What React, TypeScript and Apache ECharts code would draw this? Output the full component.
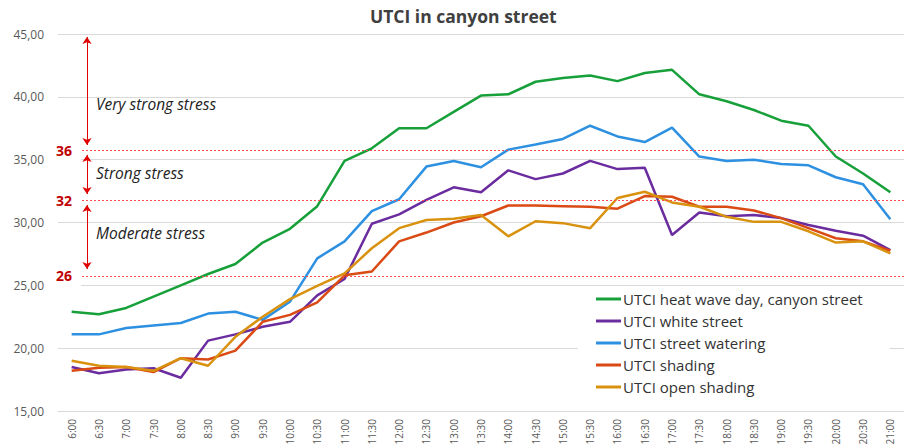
import React, { useEffect, useRef } from 'react';
import * as echarts from 'echarts';

const times = ['6:00','6:30','7:00','7:30','8:00','8:30','9:00','9:30','10:00','10:30','11:00','11:30','12:00','12:30','13:00','13:30','14:00','14:30','15:00','15:30','16:00','16:30','17:00','17:30','18:00','18:30','19:00','19:30','20:00','20:30','21:00'];

const heatWave = [22.9,22.7,23.2,24.1,25.0,25.9,26.7,28.4,29.5,31.3,34.9,35.9,37.5,37.5,38.8,40.1,40.2,41.2,41.5,41.7,41.25,41.9,42.15,40.2,39.65,38.95,38.1,37.7,35.25,33.9,32.4];
const whiteStreet = [18.5,18.0,18.3,18.4,17.65,20.6,21.1,21.7,22.1,24.2,25.5,29.9,30.65,31.8,32.8,32.4,34.15,33.45,33.9,34.9,34.25,34.35,29.0,30.8,30.5,30.6,30.35,29.8,29.35,28.95,27.8];
const streetWatering = [21.1,21.1,21.6,21.8,22.0,22.75,22.9,22.25,23.7,27.15,28.5,30.9,31.85,34.45,34.9,34.4,35.8,36.2,36.65,37.7,36.85,36.4,37.55,35.25,34.9,35.0,34.65,34.55,33.6,33.05,30.25];
const shading = [18.2,18.45,18.5,18.1,19.2,19.1,19.8,22.1,22.65,23.65,25.8,26.1,28.5,29.2,30.0,30.5,31.35,31.35,31.3,31.25,31.1,32.1,32.05,31.25,31.25,30.95,30.35,29.55,28.75,28.5,27.75];
const openShading = [19.0,18.6,18.5,18.2,19.2,18.6,20.9,22.5,23.9,24.95,25.95,27.95,29.55,30.2,30.3,30.6,28.9,30.1,29.95,29.55,31.95,32.45,31.6,31.25,30.45,30.05,30.05,29.3,28.4,28.5,27.55];

const seriesNames = ['UTCI heat wave day, canyon street','UTCI white street','UTCI street watering','UTCI shading','UTCI open shading'];

// stress thresholds as drawn in the figure (label, drawn level)
const stressLabels = ['36','32','26'];
const stressLevels = [35.75, 31.8, 25.75];
const stressZones = ['Very strong stress','Strong stress','Moderate stress'];

export default function App() {
  const ref = useRef<HTMLDivElement>(null);
  useEffect(() => {
    const chart = echarts.init(ref.current as HTMLDivElement, null, { renderer: 'svg' });
    const font = 'Open Sans';
    const colors = ['#17a03a', '#6a2c9e', '#2d90e0', '#d94a14', '#d8920f'];
    const datas = [heatWave, whiteStreet, streetWatering, shading, openShading];
    const series: any[] = datas.map((d, i) => ({
      type: 'line',
      name: seriesNames[i],
      data: d,
      symbol: 'none',
      z: 3,
      lineStyle: { color: colors[i], width: 2.5 },
      itemStyle: { color: colors[i] },
    }));
    series[0].markLine = {
      silent: true,
      symbol: 'none',
      label: { show: false },
      lineStyle: { type: [2, 2], color: '#ff4d4d', width: 1 },
      data: stressLevels.map((v) => ({ yAxis: v })),
    };
    series[2].markLine = {
      silent: true,
      symbol: ['arrow', 'arrow'],
      symbolSize: 7,
      label: { show: false },
      lineStyle: { type: 'solid', color: '#e00000', width: 1 },
      data: [
        [{ x: 87, y: 37 }, { x: 87, y: 145 }],
        [{ x: 87, y: 155 }, { x: 87, y: 194 }],
        [{ x: 87, y: 205 }, { x: 87, y: 269 }],
      ],
    };
    const labelY = [150, 200, 275];
    const zoneY = [104, 173, 233];
    const graphic: any[] = [];
    stressLabels.forEach((t, i) => {
      graphic.push({
        type: 'text', z: 10, x: 64, y: labelY[i],
        style: {
          text: t, align: 'center', verticalAlign: 'middle', fill: '#c00000',
          font: `bold 14px "${font}"`, backgroundColor: '#ffffff', padding: [6, 9],
        },
      });
    });
    stressZones.forEach((t, i) => {
      graphic.push({
        type: 'text', z: 10, x: 96, y: zoneY[i],
        style: {
          text: t, align: 'left', verticalAlign: 'middle', fill: '#222222',
          font: `italic 15.5px "${font}"`,
        },
      });
    });
    chart.setOption({
      animation: false,
      backgroundColor: '#ffffff',
      title: {
        text: 'UTCI in canyon street', left: 365, top: 2,
        textStyle: { fontFamily: font, fontSize: 17.5, fontWeight: 'bold', color: '#404040' },
      },
      grid: { left: 58, right: -8, top: 34, bottom: 37, containLabel: false },
      legend: {
        left: 578, top: 287, orient: 'vertical',
        padding: [3, 27, 1, 18], itemGap: 4, itemWidth: 25, itemHeight: 3,
        icon: 'rect', backgroundColor: '#ffffff', selectedMode: false,
        textStyle: { fontFamily: font, fontSize: 15, color: '#333333', lineHeight: 18, padding: [0, 0, 0, -3] },
        data: seriesNames,
      },
      xAxis: {
        type: 'category', data: times, boundaryGap: true,
        axisLine: { show: true, lineStyle: { color: '#d9d9d9', width: 1 } },
        axisTick: { show: false },
        axisLabel: { rotate: 90, interval: 0, margin: 8, fontFamily: font, fontSize: 10, color: '#595959' },
        splitLine: { show: false },
      },
      yAxis: {
        type: 'value', min: 15, max: 45, interval: 5,
        axisLine: { show: false }, axisTick: { show: false },
        axisLabel: { margin: 14, fontFamily: font, fontSize: 12, color: '#595959', formatter: (v: number) => v.toFixed(2).replace('.', ',') },
        splitLine: { lineStyle: { color: '#d9d9d9', width: 1 } },
      },
      graphic,
      series,
    });
    return () => chart.dispose();
  }, []);
  return <div ref={ref} style={{ position: 'fixed', left: 0, top: 0, width: 904, height: 448 }} />;
}
